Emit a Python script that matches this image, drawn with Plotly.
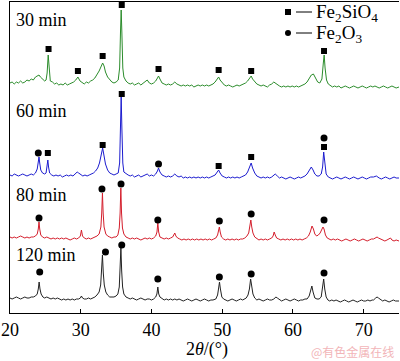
import plotly.graph_objects as go

# ---------------- data (2θ in degrees, intensity in arbitrary units incl. stacking offset) -------------
pattern_30min = [
    (20.0, 230), (20.3, 231), (20.6, 229), (20.9, 231), (21.2, 230), (21.5, 232), (21.8, 230), (22.1, 231),
    (22.4, 233), (22.7, 232), (23.0, 234), (23.3, 233), (23.6, 236), (23.9, 237), (24.1, 238), (24.3, 236),
    (24.6, 234), (24.9, 232), (25.1, 233), (25.25, 240), (25.4, 258), (25.55, 240), (25.7, 232), (26.0, 231),
    (26.3, 229), (26.6, 230), (26.9, 228), (27.2, 229), (27.5, 228), (27.8, 230), (28.1, 228), (28.4, 229),
    (28.7, 230), (29.0, 231), (29.3, 233), (29.6, 236), (29.9, 232), (30.2, 230), (30.5, 229), (30.8, 231),
    (31.1, 230), (31.4, 232), (31.7, 233), (32.0, 235), (32.3, 238), (32.6, 242), (32.85, 246), (33.1, 250),
    (33.3, 247), (33.5, 241), (33.8, 236), (34.1, 233), (34.4, 231), (34.7, 230), (35.0, 231), (35.3, 233),
    (35.5, 245), (35.62, 280), (35.72, 303), (35.82, 280), (35.95, 245), (36.1, 236), (36.4, 232), (36.7, 230),
    (37.0, 229), (37.3, 230), (37.6, 228), (37.9, 229), (38.2, 230), (38.5, 228), (38.8, 230), (39.1, 231),
    (39.4, 233), (39.7, 230), (40.0, 229), (40.3, 230), (40.6, 232), (40.85, 235), (41.0, 237), (41.2, 234),
    (41.5, 230), (41.8, 229), (42.1, 228), (42.4, 229), (42.7, 228), (43.0, 229), (43.3, 231), (43.6, 229),
    (43.9, 228), (44.2, 227), (44.5, 228), (44.8, 227), (45.1, 228), (45.4, 227), (45.7, 228), (46.0, 226),
    (46.3, 227), (46.6, 228), (46.9, 227), (47.2, 228), (47.5, 227), (47.8, 228), (48.1, 227), (48.4, 228),
    (48.7, 229), (49.0, 231), (49.3, 234), (49.5, 236), (49.7, 233), (50.0, 230), (50.3, 228), (50.6, 227),
    (50.9, 228), (51.2, 227), (51.5, 226), (51.8, 227), (52.1, 228), (52.4, 227), (52.7, 228), (53.0, 229),
    (53.3, 230), (53.6, 232), (53.9, 235), (54.1, 237), (54.3, 234), (54.6, 231), (54.9, 229), (55.2, 228),
    (55.5, 227), (55.8, 228), (56.1, 227), (56.4, 226), (56.7, 228), (57.0, 229), (57.3, 231), (57.5, 230),
    (57.8, 228), (58.1, 227), (58.4, 226), (58.7, 227), (59.0, 226), (59.3, 227), (59.6, 226), (59.9, 227),
    (60.2, 226), (60.5, 227), (60.8, 226), (61.1, 227), (61.4, 228), (61.7, 229), (62.0, 231), (62.3, 234),
    (62.6, 238), (62.9, 239), (63.2, 235), (63.5, 231), (63.8, 230), (64.1, 234), (64.3, 250), (64.42, 258),
    (64.55, 245), (64.75, 233), (65.0, 229), (65.3, 227), (65.6, 226), (65.9, 227), (66.2, 226), (66.5, 227),
    (66.8, 225), (67.1, 226), (67.4, 227), (67.7, 226), (68.0, 225), (68.3, 226), (68.6, 227), (68.9, 226),
    (69.2, 225), (69.5, 226), (69.8, 227), (70.1, 226), (70.4, 225), (70.7, 226), (71.0, 227), (71.3, 226),
    (71.6, 227), (71.9, 226), (72.2, 225), (72.5, 226), (72.8, 227), (73.1, 226), (73.4, 225), (73.7, 226),
    (74.0, 227), (74.3, 226), (74.6, 225), (75.0, 226),
]

pattern_60min = [
    (20.0, 138), (20.3, 137), (20.6, 139), (20.9, 138), (21.2, 137), (21.5, 138), (21.8, 139), (22.1, 138),
    (22.4, 137), (22.7, 138), (23.0, 139), (23.3, 138), (23.6, 140), (23.85, 144), (24.0, 150), (24.1, 156),
    (24.2, 150), (24.35, 143), (24.6, 140), (24.9, 139), (25.1, 140), (25.25, 146), (25.35, 153), (25.45, 146),
    (25.6, 140), (25.9, 138), (26.2, 137), (26.5, 138), (26.8, 137), (27.1, 138), (27.4, 136), (27.7, 137),
    (28.0, 138), (28.3, 137), (28.6, 138), (28.9, 137), (29.2, 139), (29.5, 141), (29.7, 140), (30.0, 138),
    (30.3, 137), (30.6, 138), (30.9, 137), (31.2, 138), (31.5, 139), (31.8, 140), (32.1, 142), (32.4, 145),
    (32.65, 150), (32.9, 158), (33.1, 165), (33.3, 157), (33.5, 149), (33.8, 143), (34.1, 140), (34.4, 139),
    (34.7, 138), (35.0, 139), (35.3, 140), (35.5, 150), (35.62, 185), (35.72, 216), (35.82, 185), (35.95, 150),
    (36.1, 141), (36.4, 139), (36.7, 138), (37.0, 137), (37.3, 138), (37.6, 136), (37.9, 137), (38.2, 138),
    (38.5, 136), (38.8, 137), (39.1, 138), (39.4, 139), (39.7, 137), (40.0, 138), (40.3, 137), (40.6, 139),
    (40.85, 142), (41.0, 145), (41.2, 141), (41.5, 138), (41.8, 137), (42.1, 136), (42.4, 137), (42.7, 136),
    (43.0, 137), (43.3, 139), (43.6, 137), (43.9, 136), (44.2, 137), (44.5, 135), (44.8, 136), (45.1, 135),
    (45.4, 136), (45.7, 135), (46.0, 136), (46.3, 135), (46.6, 136), (46.9, 135), (47.2, 136), (47.5, 135),
    (47.8, 136), (48.1, 135), (48.4, 136), (48.7, 137), (49.0, 138), (49.3, 141), (49.5, 143), (49.7, 140),
    (50.0, 137), (50.3, 136), (50.6, 135), (50.9, 136), (51.2, 135), (51.5, 136), (51.8, 135), (52.1, 136),
    (52.4, 135), (52.7, 136), (53.0, 137), (53.3, 138), (53.6, 141), (53.9, 146), (54.1, 150), (54.3, 145),
    (54.6, 140), (54.9, 137), (55.2, 136), (55.5, 135), (55.8, 136), (56.1, 135), (56.4, 136), (56.7, 135),
    (57.0, 136), (57.3, 138), (57.5, 139), (57.8, 137), (58.1, 135), (58.4, 136), (58.7, 135), (59.0, 134),
    (59.3, 135), (59.6, 136), (59.9, 135), (60.2, 134), (60.5, 135), (60.8, 136), (61.1, 135), (61.4, 136),
    (61.7, 137), (62.0, 139), (62.3, 142), (62.6, 146), (62.85, 143), (63.1, 139), (63.4, 137), (63.7, 137),
    (64.0, 139), (64.2, 146), (64.35, 161), (64.5, 148), (64.7, 139), (65.0, 136), (65.3, 135), (65.6, 134),
    (65.9, 135), (66.2, 136), (66.5, 135), (66.8, 134), (67.1, 135), (67.4, 136), (67.7, 135), (68.0, 134),
    (68.3, 135), (68.6, 136), (68.9, 135), (69.2, 134), (69.5, 135), (69.8, 136), (70.1, 135), (70.4, 134),
    (70.7, 135), (71.0, 136), (71.4, 136), (71.8, 137), (72.2, 135), (72.5, 134), (72.8, 135), (73.1, 136),
    (73.4, 135), (73.7, 134), (74.0, 135), (74.3, 136), (74.6, 135), (75.0, 135),
]

pattern_80min = [
    (20.0, 76), (20.3, 75), (20.6, 76), (20.9, 75), (21.2, 76), (21.5, 77), (21.8, 76), (22.1, 75),
    (22.4, 76), (22.7, 75), (23.0, 76), (23.3, 76), (23.6, 77), (23.85, 79), (24.0, 84), (24.1, 91),
    (24.2, 84), (24.35, 78), (24.6, 76), (24.9, 75), (25.2, 76), (25.5, 75), (25.8, 74), (26.1, 75),
    (26.4, 74), (26.7, 75), (27.0, 74), (27.3, 75), (27.6, 74), (27.9, 75), (28.2, 74), (28.5, 73),
    (28.8, 74), (29.1, 75), (29.4, 74), (29.7, 75), (29.95, 77), (30.1, 83), (30.25, 77), (30.5, 75),
    (30.8, 74), (31.1, 75), (31.4, 74), (31.7, 75), (32.0, 76), (32.3, 77), (32.6, 79), (32.85, 86),
    (32.97, 100), (33.07, 120), (33.17, 100), (33.3, 86), (33.55, 79), (33.8, 77), (34.1, 76), (34.4, 75),
    (34.7, 76), (35.0, 76), (35.25, 78), (35.45, 85), (35.57, 100), (35.67, 125), (35.77, 100), (35.9, 85),
    (36.1, 79), (36.4, 76), (36.7, 75), (37.0, 74), (37.3, 75), (37.6, 74), (37.9, 75), (38.2, 74),
    (38.5, 73), (38.8, 74), (39.1, 75), (39.4, 74), (39.7, 75), (40.0, 74), (40.3, 75), (40.6, 77),
    (40.78, 81), (40.9, 90), (41.02, 81), (41.2, 76), (41.5, 75), (41.8, 74), (42.1, 75), (42.4, 74),
    (42.7, 75), (43.0, 76), (43.15, 78), (43.3, 80), (43.45, 77), (43.7, 75), (44.0, 74), (44.3, 73),
    (44.6, 74), (44.9, 73), (45.2, 74), (45.5, 73), (45.8, 74), (46.1, 73), (46.4, 74), (46.7, 73),
    (47.0, 74), (47.3, 73), (47.6, 74), (47.9, 73), (48.2, 74), (48.5, 73), (48.8, 74), (49.1, 75),
    (49.35, 78), (49.5, 83), (49.6, 86), (49.72, 81), (49.9, 76), (50.2, 74), (50.5, 73), (50.8, 74),
    (51.1, 73), (51.4, 74), (51.7, 73), (52.0, 74), (52.3, 73), (52.6, 74), (52.9, 74), (53.2, 75),
    (53.5, 77), (53.75, 80), (53.92, 86), (54.05, 93), (54.18, 86), (54.35, 80), (54.6, 76), (54.9, 74),
    (55.2, 73), (55.5, 74), (55.8, 73), (56.1, 74), (56.4, 73), (56.7, 74), (57.0, 75), (57.2, 77),
    (57.35, 81), (57.5, 78), (57.7, 75), (58.0, 74), (58.3, 73), (58.6, 74), (58.9, 73), (59.2, 74),
    (59.5, 73), (59.8, 74), (60.1, 73), (60.4, 74), (60.7, 73), (61.0, 74), (61.3, 73), (61.6, 74),
    (61.9, 75), (62.2, 77), (62.45, 81), (62.7, 87), (62.9, 84), (63.1, 79), (63.35, 77), (63.6, 78),
    (63.85, 80), (64.05, 83), (64.25, 86), (64.4, 84), (64.6, 78), (64.85, 75), (65.1, 74), (65.4, 73),
    (65.7, 74), (66.0, 73), (66.3, 74), (66.6, 73), (66.9, 72), (67.2, 73), (67.5, 74), (67.8, 73),
    (68.1, 72), (68.4, 73), (68.7, 74), (69.0, 73), (69.3, 72), (69.6, 73), (69.9, 74), (70.2, 73),
    (70.5, 72), (70.8, 73), (71.1, 74), (71.4, 74), (71.7, 75), (71.9, 76), (72.1, 75), (72.4, 74),
    (72.7, 73), (73.0, 72), (73.3, 73), (73.6, 74), (73.8, 75), (74.0, 73), (74.3, 72), (74.6, 73),
    (75.0, 72),
]

pattern_120min = [
    (20.0, 15), (20.3, 14), (20.6, 15), (20.9, 16), (21.2, 15), (21.5, 14), (21.8, 15), (22.1, 16),
    (22.4, 15), (22.7, 15), (23.0, 16), (23.3, 16), (23.6, 17), (23.85, 19), (24.0, 24), (24.12, 31),
    (24.24, 24), (24.4, 19), (24.65, 16), (24.9, 15), (25.2, 16), (25.5, 15), (25.8, 14), (26.1, 15),
    (26.4, 14), (26.7, 15), (27.0, 14), (27.3, 13), (27.6, 14), (27.9, 13), (28.2, 14), (28.5, 13),
    (28.8, 14), (29.1, 13), (29.4, 14), (29.7, 14), (29.95, 15), (30.1, 17), (30.25, 15), (30.5, 14),
    (30.8, 14), (31.1, 15), (31.4, 14), (31.7, 15), (32.0, 16), (32.3, 18), (32.6, 21), (32.82, 28),
    (32.95, 40), (33.07, 58), (33.19, 40), (33.33, 28), (33.55, 21), (33.8, 18), (34.1, 16), (34.4, 16),
    (34.7, 16), (35.0, 17), (35.25, 19), (35.45, 26), (35.57, 42), (35.68, 65), (35.79, 42), (35.92, 26),
    (36.1, 19), (36.4, 16), (36.7, 15), (37.0, 14), (37.3, 15), (37.6, 14), (37.9, 13), (38.2, 14),
    (38.5, 15), (38.8, 14), (39.1, 13), (39.4, 14), (39.7, 14), (40.0, 13), (40.3, 14), (40.6, 16),
    (40.77, 19), (40.9, 26), (41.03, 19), (41.2, 16), (41.5, 14), (41.8, 13), (42.1, 14), (42.4, 13),
    (42.7, 14), (43.0, 13), (43.3, 14), (43.6, 13), (43.9, 14), (44.2, 13), (44.5, 12), (44.8, 13),
    (45.1, 14), (45.4, 13), (45.7, 12), (46.0, 13), (46.3, 14), (46.6, 13), (46.9, 12), (47.2, 13),
    (47.5, 14), (47.8, 13), (48.1, 12), (48.4, 13), (48.7, 13), (49.1, 14), (49.35, 18), (49.5, 25),
    (49.62, 31), (49.75, 24), (49.95, 16), (50.2, 14), (50.5, 13), (50.8, 12), (51.1, 13), (51.4, 14),
    (51.7, 13), (52.0, 12), (52.3, 13), (52.6, 14), (52.9, 13), (53.2, 14), (53.4, 15), (53.65, 18),
    (53.85, 24), (54.02, 34), (54.17, 26), (54.35, 19), (54.6, 15), (54.9, 13), (55.2, 14), (55.5, 13),
    (55.8, 12), (56.1, 13), (56.4, 14), (56.7, 13), (57.0, 13), (57.3, 14), (57.6, 16), (57.8, 15),
    (58.1, 13), (58.4, 12), (58.7, 13), (59.0, 14), (59.3, 13), (59.6, 12), (59.9, 13), (60.2, 14),
    (60.5, 13), (60.8, 12), (61.1, 13), (61.4, 13), (61.7, 14), (62.0, 14), (62.3, 17), (62.5, 22),
    (62.68, 27), (62.85, 21), (63.1, 15), (63.4, 14), (63.7, 14), (64.0, 16), (64.2, 24), (64.35, 34),
    (64.5, 24), (64.7, 16), (64.95, 13), (65.2, 12), (65.5, 13), (65.8, 12), (66.1, 13), (66.4, 12),
    (66.7, 11), (67.0, 12), (67.3, 13), (67.6, 12), (67.9, 11), (68.2, 12), (68.5, 13), (68.8, 12),
    (69.1, 11), (69.4, 12), (69.7, 13), (70.0, 12), (70.3, 12), (70.6, 13), (70.9, 12), (71.2, 13),
    (71.4, 13), (71.7, 15), (71.9, 16), (72.1, 15), (72.4, 13), (72.7, 12), (73.0, 13), (73.3, 12),
    (73.6, 11), (73.9, 12), (74.2, 13), (74.5, 12), (75.0, 12),
]

# phase markers (2θ, height)
fe2sio4_2theta = [25.45, 29.6, 33.1, 35.8, 41.0, 49.5, 54.1, 64.4, 25.35, 33.1, 35.8, 49.5, 54.1, 64.4]
fe2sio4_height = [264, 242, 257, 308, 244, 243, 242, 262, 160, 168, 219, 147, 156, 166]
fe2o3_2theta = [24.0, 41.0, 64.4, 24.1, 33.0, 35.7, 40.9, 49.6, 54.1, 64.4, 24.2, 33.5, 35.8, 40.9, 49.6, 54.1, 64.4]
fe2o3_height = [160, 149, 175, 95, 124, 129, 93, 92, 99, 93, 41, 61, 68, 34, 36, 39, 40]

series_names = ["30 min", "60 min", "80 min", "120 min"]
series_colors = ["#2b8c2b", "#1c1ccf", "#d41e2c", "#222222"]
label_heights = [293, 202, 118, 58]
x_ticks = [20, 30, 40, 50, 60, 70]

# ---------------- figure ----------------
FONT = "Liberation Serif"
fig = go.Figure()
for pat, col in zip([pattern_30min, pattern_60min, pattern_80min, pattern_120min], series_colors):
    fig.add_trace(go.Scatter(x=[p[0] for p in pat], y=[p[1] for p in pat], mode="lines",
                             line=dict(color=col, width=1), showlegend=False, hoverinfo="skip"))

fig.add_trace(go.Scatter(x=fe2sio4_2theta, y=fe2sio4_height, mode="markers", showlegend=False,
                         marker=dict(symbol="square", size=6, color="black"), name="Fe2SiO4"))
fig.add_trace(go.Scatter(x=fe2o3_2theta, y=fe2o3_height, mode="markers", showlegend=False,
                         marker=dict(symbol="circle", size=7, color="black"), name="Fe2O3"))

for name, h in zip(series_names, label_heights):
    fig.add_annotation(x=20.6, y=h, xref="x", yref="y", text=name, showarrow=False,
                       xanchor="left", yanchor="middle", font=dict(family=FONT, size=18, color="black"))

# legend drawn manually (px -> paper)
def px(xp):
    return (xp - 10) / 389.0

def py(yp):
    return (313 - yp) / 311.0

fig.add_shape(type="rect", xref="paper", yref="paper", x0=px(285), x1=px(291), y0=py(15), y1=py(9),
              fillcolor="black", line=dict(width=0))
fig.add_shape(type="circle", xref="paper", yref="paper", x0=px(285), x1=px(291), y0=py(36), y1=py(30),
              fillcolor="black", line=dict(width=0))
for yl in (12, 33):
    fig.add_shape(type="line", xref="paper", yref="paper", x0=px(296), x1=px(312), y0=py(yl), y1=py(yl),
                  line=dict(color="black", width=1))
fig.add_annotation(x=px(314), y=py(13), xref="paper", yref="paper", text="Fe<sub>2</sub>SiO<sub>4</sub>",
                   showarrow=False, xanchor="left", yanchor="middle", font=dict(family=FONT, size=19, color="black"))
fig.add_annotation(x=px(314), y=py(34), xref="paper", yref="paper", text="Fe<sub>2</sub>O<sub>3</sub>",
                   showarrow=False, xanchor="left", yanchor="middle", font=dict(family=FONT, size=19, color="black"))

fig.add_annotation(x=px(207), y=py(349), xref="paper", yref="paper", text="2<i>θ</i>/(°)",
                   showarrow=False, xanchor="center", yanchor="middle", font=dict(family=FONT, size=18, color="black"))
fig.add_annotation(x=px(352), y=py(351), xref="paper", yref="paper", text="@有色金属在线",
                   showarrow=False, xanchor="center", yanchor="middle",
                   font=dict(family="Noto Sans CJK SC", size=12, color="#f2b5b8"))

fig.update_layout(
    width=400, height=361, margin=dict(l=10, r=1, t=2, b=48),
    paper_bgcolor="white", plot_bgcolor="white", showlegend=False,
    font=dict(family=FONT, size=18, color="black"),
)
fig.update_xaxes(range=[20, 75], tickvals=x_ticks, ticks="inside", ticklen=4, tickcolor="black",
                 showline=True, linecolor="black", linewidth=1, mirror=True, showgrid=False, zeroline=False,
                 tickfont=dict(family=FONT, size=18, color="black"))
fig.update_yaxes(range=[0, 311], showticklabels=False, ticks="", showline=True, linecolor="black",
                 linewidth=1, showgrid=False, zeroline=False)

fig.write_html("out.html", config={"displayModeBar": False, "staticPlot": True},
               post_script="document.body.style.margin='0';document.body.style.overflow='hidden';")
